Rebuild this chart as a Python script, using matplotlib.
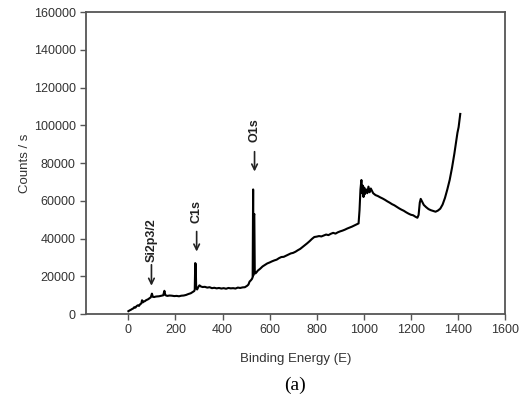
import matplotlib
matplotlib.use("Agg")
import matplotlib.pyplot as plt

energy = [0, 5, 10, 15, 20, 25, 30, 35, 40, 45, 50, 55, 58, 62, 65, 70, 75, 80, 85, 90, 95,
          100, 104, 110, 115, 120, 130, 140, 148, 153, 157, 165, 175, 185, 195, 205, 215, 225,
          235, 245, 255, 265, 275, 280, 282, 284, 286, 288, 292, 298, 302, 308, 315, 325, 335,
          345, 355, 365, 375, 385, 395, 405, 415, 425, 435, 445, 455, 465, 475, 485, 495, 505,
          510, 515, 520, 525, 528, 530, 531, 533, 535, 537, 540, 545, 550, 560, 570, 580, 590,
          600, 610, 620, 630, 640, 650, 660, 670, 680, 690, 700, 710, 720, 730, 740, 750, 760,
          770, 780, 790, 800, 810, 820, 830, 840, 850, 860, 870, 880, 890, 900, 910, 920, 930,
          940, 950, 960, 970, 978, 982, 986, 990, 993, 996, 999, 1002, 1005, 1010, 1015, 1020,
          1025, 1030, 1040, 1050, 1060, 1070, 1080, 1090, 1100, 1110, 1120, 1130, 1140, 1150,
          1160, 1170, 1180, 1190, 1200, 1210, 1220, 1228, 1233, 1238, 1242, 1248, 1255, 1265,
          1275, 1285, 1295, 1305, 1315, 1325, 1335, 1345, 1355, 1365, 1375, 1385, 1392, 1398,
          1403, 1407, 1410]
counts = [1500, 1900, 2200, 2600, 2900, 3600, 3400, 4200, 4600, 4300, 5200, 5600, 7300, 6200,
          6600, 6800, 7300, 7600, 7900, 8400, 8800, 10800, 9100, 9000, 9200, 9300, 9400, 9700,
          9900, 12300, 10000, 9600, 9800, 9700, 9500, 9600, 9400, 9700, 9800, 10100, 10600,
          11000, 11800, 12200, 13000, 27000, 26500, 14000, 13000, 14500, 15200, 14600, 14300,
          14400, 14000, 14200, 13700, 13900, 13600, 13800, 13500, 13700, 13400, 13800, 13600,
          13700, 13500, 14000, 13800, 14100, 14200, 15000, 15600, 17200, 17800, 18600, 19500,
          66000, 20500, 52000, 53000, 22000, 21500, 22200, 23000, 24000, 25200, 26000, 26800,
          27300, 27900, 28400, 28800, 29600, 30200, 30300, 30900, 31500, 32100, 32400, 33000,
          33800, 34500, 35500, 36500, 37500, 38600, 39800, 40800, 41000, 41300, 41100, 41600,
          42100, 41800, 42500, 43000, 42600, 43300, 43800, 44200, 44700, 45300, 45800, 46300,
          46900, 47500, 48000, 55000, 66000, 71000, 64000, 68000, 62000, 67000, 63500, 66000,
          64000, 67500, 64500, 66500, 64000, 63000, 62500, 61800, 61200, 60500, 59700, 59000,
          58200, 57600, 56800, 56000, 55300, 54700, 53900, 53200, 52600, 52300, 51500, 51000,
          52500, 59000, 61000, 59500, 57800, 56600, 55600, 55000, 54600, 54200, 54800, 55800,
          58000, 61500, 66000, 71000, 77500, 85000, 91000, 96000, 99000, 103000, 106000]

peak_labels = ["Si2p3/2", "C1s", "O1s"]
peak_x = [98, 290, 536]
arrow_tail = [26100, 43700, 86000]
arrow_tip = [15000, 33100, 75500]
label_y = [39000, 54500, 97500]

xticks = [0, 200, 400, 600, 800, 1000, 1200, 1400, 1600]
yticks = [0, 20000, 40000, 60000, 80000, 100000, 120000, 140000, 160000]

fig = plt.figure(figsize=(5.29, 4.03), dpi=100)
ax = fig.add_axes([0.1626, 0.2208, 0.7920, 0.7494])
ax.plot(energy, counts, color="black", lw=1.5)

for lab, px, t0, t1, ly in zip(peak_labels, peak_x, arrow_tail, arrow_tip, label_y):
    ax.annotate("", xy=(px, t1), xytext=(px, t0),
                arrowprops=dict(arrowstyle="->", lw=1.2, color="#222222",
                                shrinkA=0, shrinkB=0))
    ax.text(px, ly, lab, rotation=90, ha="center", va="center", fontsize=9,
            fontweight="bold", family="Liberation Sans", color="#222222")

ax.set_xlim(-180, 1600)
ax.set_ylim(0, 160000)
ax.set_xticks(xticks)
ax.set_yticks(yticks)
ax.set_xticklabels([str(v) for v in xticks])
ax.set_yticklabels([str(v) for v in yticks])
ax.tick_params(direction="out", length=4, width=1, color="#555555",
               labelsize=9, labelcolor="#333333")
for lab in ax.get_xticklabels() + ax.get_yticklabels():
    lab.set_family("Liberation Sans")
for s in ax.spines.values():
    s.set_color("#555555")
    s.set_linewidth(1.3)

ax.set_xlabel("Binding Energy (E)", fontsize=9.5, family="Liberation Sans",
              color="#333333", labelpad=12)
ax.set_ylabel("Counts / s", fontsize=9.5, family="Liberation Sans",
              color="#333333", labelpad=2)

fig.text(295 / 529, 1 - 385 / 403, "(a)", ha="center", va="center", fontsize=14,
         family="Liberation Serif")

fig.savefig("out.png", dpi=100)
